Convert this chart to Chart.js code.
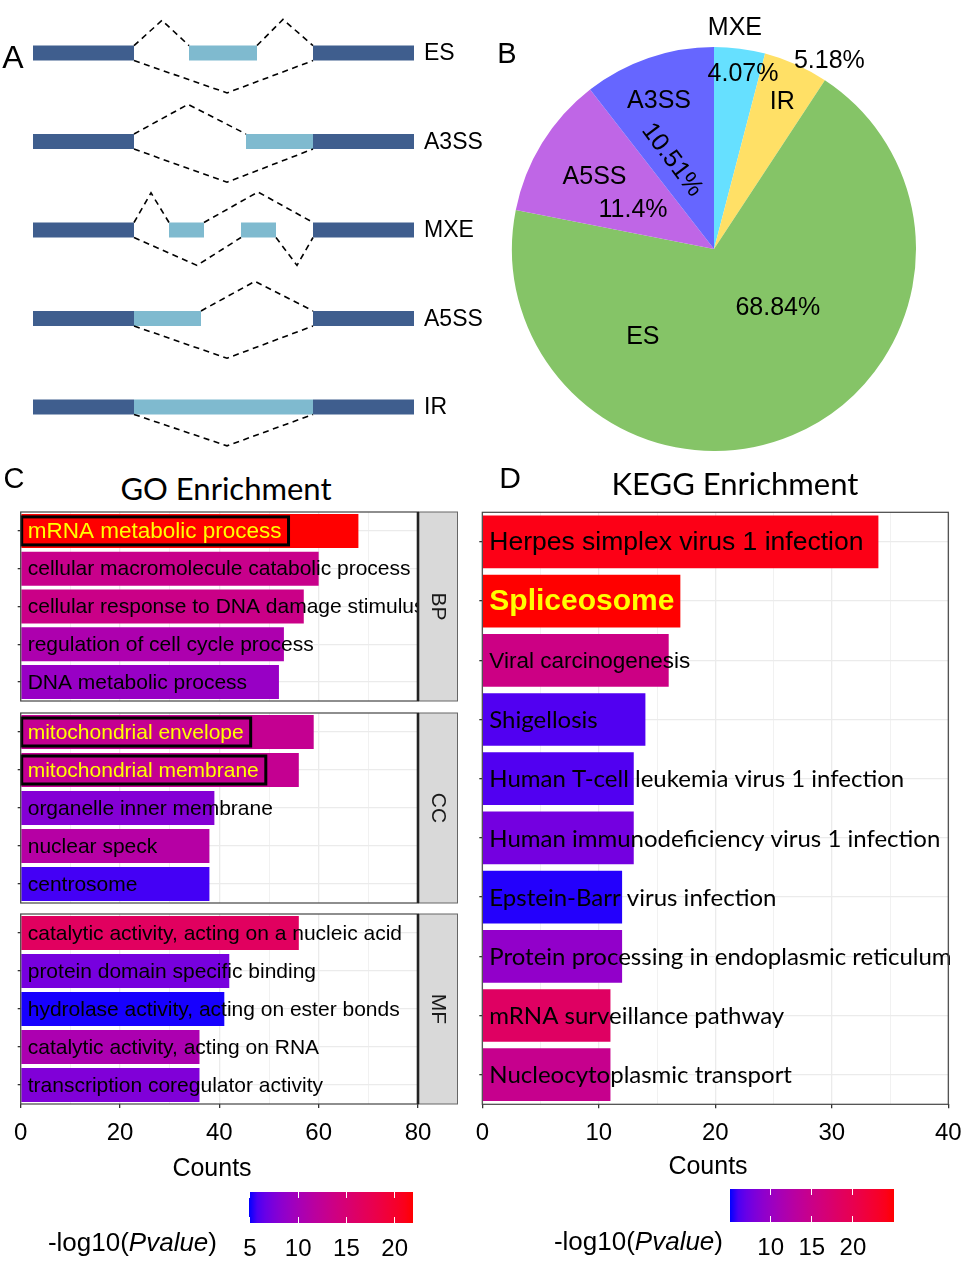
<!DOCTYPE html>
<html>
<head>
<meta charset="utf-8">
<title>Alternative splicing and enrichment</title>
<script src="https://cdn.jsdelivr.net/npm/chart.js@4.4.1/dist/chart.umd.min.js"></script>
<style>
  body { margin: 0; background: #fff; width: 962px; height: 1261px; position: relative; overflow: hidden;
         font-family: "Liberation Sans", Arial, sans-serif; }
  canvas { position: absolute; }
  .t { position: absolute; white-space: nowrap; color: #000; line-height: 1; }
</style>
</head>
<body>
<canvas id="events" width="500" height="460" style="left:0;top:0"></canvas>
<canvas id="pie" width="470" height="470" style="left:490px;top:0"></canvas>
<canvas id="goBP" width="470" height="195" style="left:0;top:509px"></canvas>
<canvas id="goCC" width="470" height="196" style="left:0;top:710px"></canvas>
<canvas id="goMF" width="470" height="279" style="left:0;top:911px"></canvas>
<canvas id="kegg" width="515" height="681" style="left:460px;top:509px"></canvas>

<script>
// ---- Panel A: splicing event schematics (gene coordinate units) ----
const eventNames = ['ES', 'A3SS', 'MXE', 'A5SS', 'IR'];
const flankExons = [[0, 101], [280, 381]];
const altExons = [
  [[156, 224]],
  [[213, 280]],
  [[136, 171], [208, 243]],
  [[101, 168]],
  [[101, 280]]
];
// junction: [start, peak x, end, peak offset in rows] (negative = above)
const junctions = [
  [[101, 129, 156, -0.37], [224, 250, 280, -0.38], [101, 194, 280, 0.45]],
  [[101, 155, 213, -0.42], [101, 194, 280, 0.46]],
  [[101, 118, 136, -0.42], [171, 225, 280, -0.43], [101, 164, 208, 0.40], [243, 264, 280, 0.40]],
  [[168, 222, 280, -0.42], [101, 194, 280, 0.45]],
  [[101, 194, 280, 0.44]]
];

// ---- Panel B: share of each event type ----
const pieLabels = ['MXE', 'IR', 'ES', 'A5SS', 'A3SS'];
const piePercents = [4.07, 5.18, 68.84, 11.4, 10.51];

// ---- Panel C: GO enrichment ----
const goBP = ['mRNA metabolic process', 'cellular macromolecule catabolic process',
  'cellular response to DNA damage stimulus', 'regulation of cell cycle process', 'DNA metabolic process'];
const goBPCounts = [68, 60, 57, 53, 52];
const goBPLogP = [21.9, 13.2, 13.5, 10.6, 9.0];

const goCC = ['mitochondrial envelope', 'mitochondrial membrane', 'organelle inner membrane',
  'nuclear speck', 'centrosome'];
const goCCCounts = [59, 56, 39, 38, 38];
const goCCLogP = [12.8, 12.8, 7.8, 11.4, 5.6];

const goMF = ['catalytic activity, acting on a nucleic acid', 'protein domain specific binding',
  'hydrolase activity, acting on ester bonds', 'catalytic activity, acting on RNA',
  'transcription coregulator activity'];
const goMFCounts = [56, 42, 41, 36, 36];
const goMFLogP = [16.5, 7.2, 5.0, 10.5, 7.6];

const goLogPRange = [4.9, 21.9];
const goLegendTicks = [5, 10, 15, 20];
const goHighlight = ['mRNA metabolic process', 'mitochondrial envelope', 'mitochondrial membrane'];

// ---- Panel D: KEGG enrichment ----
const keggTerms = ['Herpes simplex virus 1 infection', 'Spliceosome', 'Viral carcinogenesis', 'Shigellosis',
  'Human T-cell leukemia virus 1 infection', 'Human immunodeficiency virus 1 infection',
  'Epstein-Barr virus infection', 'Protein processing in endoplasmic reticulum',
  'mRNA surveillance pathway', 'Nucleocytoplasmic transport'];
const keggCounts = [34, 17, 16, 14, 13, 13, 12, 12, 11, 11];
const keggLogP = [24.2, 25.0, 15.4, 6.2, 6.2, 7.6, 5.3, 9.4, 18.4, 14.6];
const keggLogPRange = [5.05, 25.0];
const keggLegendTicks = [10, 15, 20];

// ---- colour scale: blue -> red interpolated in CIELAB (as ggplot does) ----
function hexToLab(hex) {
  const n = parseInt(hex.slice(1), 16);
  const c = [(n >> 16) & 255, (n >> 8) & 255, n & 255].map(v => {
    v /= 255;
    return v <= 0.04045 ? v / 12.92 : Math.pow((v + 0.055) / 1.055, 2.4);
  });
  const X = (c[0] * 0.4124 + c[1] * 0.3576 + c[2] * 0.1805) / 0.95047;
  const Y = c[0] * 0.2126 + c[1] * 0.7152 + c[2] * 0.0722;
  const Z = (c[0] * 0.0193 + c[1] * 0.1192 + c[2] * 0.9505) / 1.08883;
  const f = t => t > 0.008856 ? Math.cbrt(t) : 7.787 * t + 16 / 116;
  return [116 * f(Y) - 16, 500 * (f(X) - f(Y)), 200 * (f(Y) - f(Z))];
}
function labToCss(L, a, b) {
  const fy = (L + 16) / 116, fx = fy + a / 500, fz = fy - b / 200;
  const inv = t => t > 0.206893 ? t * t * t : (t - 16 / 116) / 7.787;
  const X = inv(fx) * 0.95047, Y = inv(fy), Z = inv(fz) * 1.08883;
  const lin = [
    X * 3.2406 - Y * 1.5372 - Z * 0.4986,
    -X * 0.9689 + Y * 1.8758 + Z * 0.0415,
    X * 0.0557 - Y * 0.2040 + Z * 1.0570
  ];
  const rgb = lin.map(v => {
    v = Math.min(1, Math.max(0, v));
    v = v <= 0.0031308 ? 12.92 * v : 1.055 * Math.pow(v, 1 / 2.4) - 0.055;
    return Math.round(v * 255);
  });
  return 'rgb(' + rgb.join(',') + ')';
}
const LOW = hexToLab('#0000FF');
const HIGH = hexToLab('#FF0000');
function pvalColor(v, range) {
  const t = Math.min(1, Math.max(0, (v - range[0]) / (range[1] - range[0])));
  return labToCss(LOW[0] + (HIGH[0] - LOW[0]) * t, LOW[1] + (HIGH[1] - LOW[1]) * t, LOW[2] + (HIGH[2] - LOW[2]) * t);
}

Chart.defaults.color = '#000';
Chart.defaults.font.family = '"Liberation Sans", Arial, sans-serif';

// ---- loose page text ----
function text(html, x, y, font, align, extra) {
  const d = document.createElement('div');
  d.className = 't';
  d.innerHTML = html;
  d.style.left = x + 'px';
  d.style.top = y + 'px';
  d.style.font = font;
  const tx = align === 'left' ? '0' : align === 'right' ? '-100%' : '-50%';
  d.style.transform = 'translate(' + tx + ',-50%)';
  if (extra) Object.assign(d.style, extra);
  document.body.appendChild(d);
  return d;
}
text('A', 13, 57, '32px "Liberation Sans", Arial');
text('B', 507, 53, '29px "Liberation Sans", Arial');
text('C', 14, 478, '29px "Liberation Sans", Arial');
text('D', 510, 478, '30px "Liberation Sans", Arial');
text('GO Enrichment', 226, 488, '31px Lato, "Noto Sans", sans-serif');
text('KEGG Enrichment', 735, 483, '31px Lato, "Noto Sans", sans-serif');
text('Counts', 212, 1167, '25px "Liberation Sans", Arial');
text('Counts', 708, 1165, '25px "Liberation Sans", Arial');

// ---- Panel A chart ----
(function() {
  const EXON_HALF = 0.085;
  const datasets = [];
  junctions.forEach((row, i) => {
    row.forEach(j => {
      const edge = i + Math.sign(j[3]) * EXON_HALF;
      datasets.push({
        data: [{ x: j[0], y: edge }, { x: j[1], y: i + j[3] }, { x: j[2], y: edge }],
        borderColor: '#000', borderWidth: 1.6, borderDash: [6, 4.5]
      });
    });
  });
  eventNames.forEach((name, i) => {
    flankExons.concat(altExons[i]).forEach((ex, k) => {
      datasets.push({
        data: [{ x: ex[0], y: i }, { x: ex[1], y: i }],
        borderColor: k < flankExons.length ? '#3F5E8E' : '#7FBACF',
        borderWidth: 15, borderCapStyle: 'butt'
      });
    });
  });
  datasets.forEach(d => { d.showLine = true; d.pointRadius = 0; });

  const eventText = {
    id: 'eventText',
    afterDraw(chart) {
      const { ctx, scales } = chart;
      ctx.save();
      ctx.font = '23px "Liberation Sans", Arial';
      ctx.fillStyle = '#000';
      ctx.textBaseline = 'middle';
      eventNames.forEach((n, i) => {
        ctx.fillText(n, scales.x.getPixelForValue(flankExons[1][1]) + 10, scales.y.getPixelForValue(i) + 1);
      });
      ctx.restore();
    }
  };

  new Chart(document.getElementById('events'), {
    type: 'scatter',
    data: { datasets },
    options: {
      responsive: false, animation: false,
      layout: { padding: 0 },
      plugins: { legend: { display: false }, tooltip: { enabled: false } },
      scales: {
        x: { type: 'linear', min: -33, max: 467, display: false },
        y: { type: 'linear', min: -0.6, max: 4.6, reverse: true, display: false }
      }
    },
    plugins: [eventText]
  });
})();

// ---- Panel B chart ----
(function() {
  // label anchors: angle (deg clockwise from top), distance in radii
  const namePos = [[5.4, 1.10], [25, 0.80], [219, 0.56], [301, 0.69], [339.6, 0.78]];
  const pctPos = [[9.4, 0.88, 0], [31.6, 1.09, 0], [132.7, 0.43, 0], [295.7, 0.445, 0], [334.7, 0.487, 53]];
  const pieText = {
    id: 'pieText',
    afterDraw(chart) {
      const { ctx } = chart;
      const arc = chart.getDatasetMeta(0).data[0];
      const R = arc.outerRadius;
      const put = (s, p) => {
        const a = p[0] * Math.PI / 180;
        ctx.save();
        ctx.translate(arc.x + p[1] * R * Math.sin(a), arc.y - p[1] * R * Math.cos(a));
        if (p[2]) ctx.rotate(p[2] * Math.PI / 180);
        ctx.fillText(s, 0, 0);
        ctx.restore();
      };
      ctx.save();
      ctx.font = '25px "Liberation Sans", Arial';
      ctx.fillStyle = '#000';
      ctx.textAlign = 'center';
      ctx.textBaseline = 'middle';
      pieLabels.forEach((n, i) => {
        put(n, namePos[i]);
        put(piePercents[i] + '%', pctPos[i]);
      });
      ctx.restore();
    }
  };
  new Chart(document.getElementById('pie'), {
    type: 'pie',
    data: {
      labels: pieLabels,
      datasets: [{
        data: piePercents,
        backgroundColor: ['#66E0FF', '#FFE066', '#85C467', '#BF66E6', '#6666FF'],
        borderWidth: 0
      }]
    },
    options: {
      responsive: false, animation: false,
      layout: { padding: { left: 22, right: 44, top: 47, bottom: 19 } },
      plugins: { legend: { display: false }, tooltip: { enabled: false } }
    },
    plugins: [pieText]
  });
})();

// ---- bar chart helpers (Panels C and D) ----
const panelFrame = {
  id: 'panelFrame',
  afterDraw(chart, args, o) {
    const { ctx, chartArea: a } = chart;
    const h = a.bottom - a.top;
    ctx.save();
    if (o.strip) {
      ctx.fillStyle = '#D9D9D9';
      ctx.fillRect(a.right, a.top, o.stripW, h);
      ctx.strokeStyle = '#666';
      ctx.lineWidth = 1;
      ctx.strokeRect(a.right + 0.5, a.top, o.stripW - 1, h);
      ctx.save();
      ctx.translate(a.right + o.stripW / 2, (a.top + a.bottom) / 2);
      ctx.rotate(Math.PI / 2);
      ctx.fillStyle = '#1A1A1A';
      ctx.font = '21px "Liberation Sans", Arial';
      ctx.textAlign = 'center';
      ctx.textBaseline = 'middle';
      ctx.fillText(o.strip, 0, 0);
      ctx.restore();
    }
    ctx.strokeStyle = '#444';
    ctx.lineWidth = 1.2;
    ctx.strokeRect(a.left, a.top, a.right - a.left, h);
    if (o.strip) {
      ctx.lineWidth = 2.6;
      ctx.strokeStyle = '#222';
      ctx.beginPath();
      ctx.moveTo(a.right, a.top);
      ctx.lineTo(a.right, a.bottom);
      ctx.stroke();
    }
    ctx.restore();
  }
};

const barText = {
  id: 'barText',
  afterDatasetsDraw(chart, args, o) {
    const { ctx } = chart;
    const meta = chart.getDatasetMeta(0);
    const x0 = chart.scales.x.getPixelForValue(0) + o.offset;
    ctx.save();
    ctx.textBaseline = 'middle';
    chart.data.labels.forEach((label, i) => {
      const bar = meta.data[i];
      const sp = (o.special && o.special[label]) || {};
      ctx.font = sp.font || o.font;
      const boxed = o.highlight && o.highlight.indexOf(label) >= 0;
      if (boxed) {
        const w = ctx.measureText(label).width;
        ctx.strokeStyle = '#000';
        ctx.lineWidth = 3;
        ctx.strokeRect(x0 - 6, bar.y - 14, w + 13, 28);
      }
      ctx.fillStyle = boxed ? '#FFFF00' : (sp.color || '#000');
      ctx.fillText(label, x0, bar.y + 1);
    });
    ctx.restore();
  }
};

function enrichChart(id, labels, counts, logP, range, cfg) {
  const tickFont = { family: '"Liberation Sans", Arial, sans-serif', size: 24 };
  const isMajor = c => c.tick && Math.abs(c.tick.value % cfg.major) < 1e-9;
  return new Chart(document.getElementById(id), {
    type: 'bar',
    data: {
      labels,
      datasets: [{
        data: counts,
        backgroundColor: logP.map(v => pvalColor(v, range)),
        borderWidth: 0,
        barPercentage: cfg.barPct,
        categoryPercentage: 1
      }]
    },
    options: {
      indexAxis: 'y',
      responsive: false, animation: false,
      layout: { padding: cfg.padding },
      plugins: {
        legend: { display: false }, tooltip: { enabled: false },
        panelFrame: { strip: cfg.strip, stripW: 40 },
        barText: cfg.text
      },
      scales: {
        x: {
          min: 0, max: cfg.xMax,
          border: { display: false },
          grid: {
            color: '#EBEBEB',
            lineWidth: c => isMajor(c) ? 1.3 : 0.7,
            drawTicks: cfg.axis, tickLength: 4,
            tickColor: c => isMajor(c) ? '#333' : 'rgba(0,0,0,0)'
          },
          ticks: {
            display: cfg.axis, stepSize: cfg.minor, autoSkip: false, maxRotation: 0, padding: 10.6,
            color: '#000', font: tickFont,
            callback: v => Math.abs(v % cfg.major) < 1e-9 ? v : ''
          },
          afterFit: s => { s.height = cfg.axisH; }
        },
        y: {
          border: { display: false },
          grid: { color: '#EBEBEB', lineWidth: 1.3, offset: false, drawTicks: true, tickLength: 3, tickColor: '#333' },
          ticks: { display: false },
          afterFit: s => { s.width = cfg.yW; }
        }
      }
    },
    plugins: [panelFrame, barText]
  });
}

const goText = {
  font: '21px "Liberation Sans", Arial', offset: 7, highlight: goHighlight,
  special: { 'mRNA metabolic process': { font: '22.5px "Liberation Sans", Arial' } }
};
const goBase = { xMax: 80, major: 20, minor: 10, barPct: 0.9, yW: 20.7 };
enrichChart('goBP', goBP, goBPCounts, goBPLogP, goLogPRange, Object.assign({}, goBase, {
  padding: { left: 0, right: 52, top: 3, bottom: 3 }, axis: false, axisH: 0, strip: 'BP', text: goText }));
enrichChart('goCC', goCC, goCCCounts, goCCLogP, goLogPRange, Object.assign({}, goBase, {
  padding: { left: 0, right: 52, top: 3, bottom: 3 }, axis: false, axisH: 0, strip: 'CC', text: goText }));
enrichChart('goMF', goMF, goMFCounts, goMFLogP, goLogPRange, Object.assign({}, goBase, {
  padding: { left: 0, right: 52, top: 3, bottom: 0 }, axis: true, axisH: 86, strip: 'MF', text: goText }));

enrichChart('kegg', keggTerms, keggCounts, keggLogP, keggLogPRange, {
  xMax: 40, major: 10, minor: 5, barPct: 0.89, yW: 22.3,
  padding: { left: 0, right: 26.7, top: 3.3, bottom: 0 }, axis: true, axisH: 85.7,
  text: {
    font: '24px Lato, "Noto Sans", sans-serif', offset: 7,
    special: {
      'Herpes simplex virus 1 infection': { font: '26.5px "Liberation Sans", Arial' },
      'Spliceosome': { font: 'bold 30px "Liberation Sans", Arial', color: '#FFFF00' },
      'Viral carcinogenesis': { font: '22.5px "Liberation Sans", Arial' }
    }
  }
});

// ---- colour bar legends ----
function colorBar(left, top, w, h, range, ticks, titleRight, titleY, labelY) {
  const stops = [];
  for (let k = 0; k <= 20; k++) {
    stops.push(pvalColor(range[0] + (range[1] - range[0]) * k / 20, range) + ' ' + (k * 5) + '%');
  }
  const bar = document.createElement('div');
  Object.assign(bar.style, {
    position: 'absolute', left: left + 'px', top: top + 'px', width: w + 'px', height: h + 'px',
    background: 'linear-gradient(to right,' + stops.join(',') + ')'
  });
  document.body.appendChild(bar);
  ticks.forEach(v => {
    const x = (v - range[0]) / (range[1] - range[0]) * w;
    [0, h - 6].forEach(y0 => {
      const m = document.createElement('div');
      Object.assign(m.style, { position: 'absolute', left: (x - 0.5) + 'px', top: y0 + 'px', width: '1px', height: '6px', background: '#fff' });
      bar.appendChild(m);
    });
    text(String(v), left + x, labelY, '24px "Liberation Sans", Arial');
  });
  text('-log10(<i>Pvalue</i>)', titleRight, titleY, '26px "Liberation Sans", Arial', 'right');
}
colorBar(249, 1192, 164, 31, goLogPRange, goLegendTicks, 217, 1242, 1248);
colorBar(730, 1189, 164, 33, keggLogPRange, keggLegendTicks, 723, 1241, 1247);
</script>
</body>
</html>
